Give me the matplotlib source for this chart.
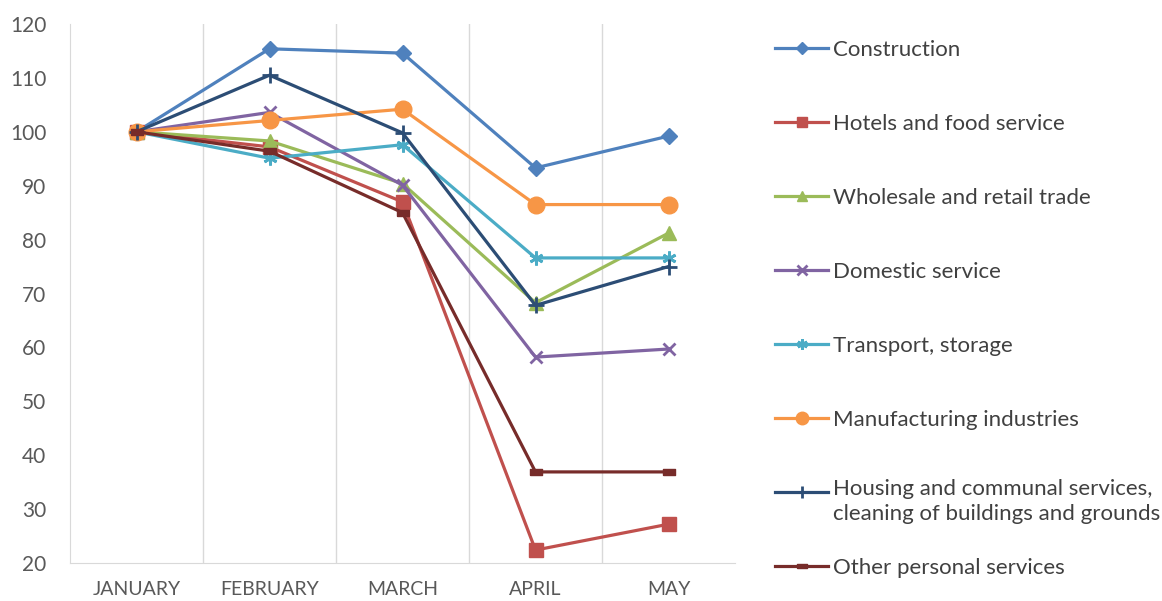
import matplotlib
matplotlib.use("Agg")
import matplotlib.pyplot as plt
from matplotlib.lines import Line2D

months = ["JANUARY", "FEBRUARY", "MARCH", "APRIL", "MAY"]
construction = [100, 115.4, 114.6, 93.3, 99.2]
hotels = [100, 97.2, 87.0, 22.4, 27.2]
wholesale = [100, 98.3, 90.4, 68.3, 81.2]
domestic = [100, 103.6, 90.1, 58.2, 59.7]
transport = [100, 95.1, 97.6, 76.6, 76.6]
manufacturing = [100, 102.1, 104.2, 86.5, 86.5]
housing = [100, 110.5, 99.8, 67.8, 75.0]
other = [100, 96.4, 85.0, 36.9, 36.9]

names = ["Construction", "Hotels and food service", "Wholesale and retail trade",
         "Domestic service", "Transport, storage", "Manufacturing industries",
         "Housing and communal services,\ncleaning of buildings and grounds",
         "Other personal services"]
colors = ["#4F81BD", "#C0504D", "#9BBB59", "#8064A2", "#4BACC6", "#F79646", "#2C4D75", "#772C2A"]

plt.rcParams['font.family'] = ['Lato', 'DejaVu Sans']

W, H = 1162, 601
fig = plt.figure(figsize=(W / 100, H / 100), dpi=100)
ax = fig.add_axes([70 / W, 1 - 563 / H, (735 - 70) / W, (563 - 24) / H])

dash = [(-1, -0.45), (1, -0.45), (1, 0.45), (-1, 0.45), (-1, -0.45)]
styles = [
    dict(marker="D", ms=8.5),
    dict(marker="s", ms=10),
    dict(marker="^", ms=10),
    dict(marker="x", ms=9, mew=2),
    dict(marker=(6, 2, 0), ms=10, mew=2),
    dict(marker="o", ms=12),
    dict(marker="+", ms=11, mew=2),
    dict(marker=dash, ms=9),
]
series = [construction, hotels, wholesale, domestic, transport, manufacturing, housing, other]
x = list(range(len(months)))
for vals, name, c, st in zip(series, names, colors, styles):
    ax.plot(x, vals, color=c, lw=2.3, label=name, mfc=c, mec=c, **st)

ax.set_xlim(-0.5, 4.5)
ax.set_ylim(20, 120)
ax.set_yticks(range(20, 121, 10))
ax.set_xticks(x)
ax.set_xticklabels(months)
for b in [0.5, 1.5, 2.5, 3.5]:
    ax.axvline(b, color="#D9D9D9", lw=1, zorder=0)
for s in ["top", "right"]:
    ax.spines[s].set_visible(False)
for s in ["left", "bottom"]:
    ax.spines[s].set_color("#D9D9D9")
ax.tick_params(axis="y", length=0, colors="#595959", labelsize=15, pad=17)
ax.tick_params(axis="x", length=0, colors="#595959", labelsize=14, pad=13)

# Legend drawn as rows (handles reuse the series styles)
row_px = 74
first_px = 48
for i, (name, c, st) in enumerate(zip(names, colors, styles)):
    ypx = first_px + i * row_px
    yf = 1 - ypx / H
    st2 = dict(st)
    st2["ms"] = st["ms"] * 0.75
    fig.add_artist(Line2D([775 / W, 828 / W], [yf, yf], transform=fig.transFigure,
                          color=c, lw=2.3))
    fig.add_artist(Line2D([801.5 / W], [yf], transform=fig.transFigure,
                          color=c, lw=0, mfc=c, mec=c, **st2))
    if "\n" in name:
        fig.text(833 / W, 1 - (ypx - 13) / H, name, fontsize=16, color="#404040",
                 va="top", ha="left", linespacing=1.33)
    else:
        fig.text(833 / W, yf, name, fontsize=16, color="#404040",
                 va="center_baseline", ha="left")

fig.savefig("out.png", dpi=100)
